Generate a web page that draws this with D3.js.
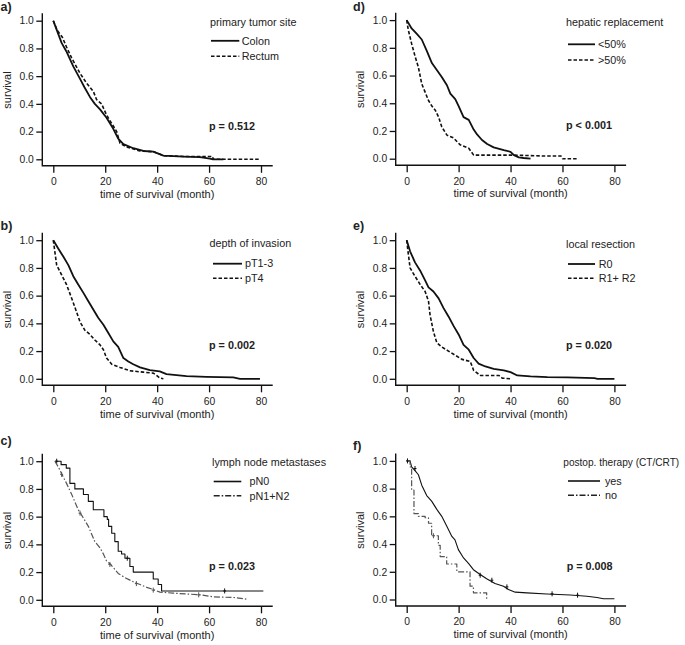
<!DOCTYPE html>
<html><head><meta charset="utf-8">
<script src="https://cdn.jsdelivr.net/npm/d3@7"></script>
<style>
body{margin:0;background:#fff}
svg{display:block}
text{font-family:"Liberation Sans",Arial,Helvetica,sans-serif;fill:#222}
</style>
</head><body>
<svg id="chart" width="685" height="645"></svg>
<script>
// ---------- data (time in months, survival proportion) ----------
const xTicks = [0, 20, 40, 60, 80];
const yTicks = [0, 0.2, 0.4, 0.6, 0.8, 1.0];

// a) primary tumor site
const colon = [[0,1],[1,0.95],[2,0.9],[3.2,0.84],[5,0.78],[7.7,0.67],[10.3,0.58],[12,0.52],[14.1,0.45],[16,0.40],[18,0.36],[20.5,0.30],[23.1,0.22],[25,0.15],[27,0.11],[30.8,0.08],[34.7,0.06],[38.5,0.055],[40,0.045],[42.4,0.026],[50,0.02],[56.5,0.015],[60.3,0.005],[61.5,0],[65.5,0]];
const rectum = [[0,1],[1.5,0.93],[3.5,0.88],[5.1,0.81],[7.1,0.73],[10.3,0.62],[12.8,0.55],[15.4,0.49],[16.7,0.43],[18.6,0.40],[20.5,0.32],[23.1,0.24],[24.4,0.20],[25.7,0.115],[28.2,0.09],[33.4,0.06],[38.5,0.055],[42.4,0.026],[51.3,0.02],[61.3,0.02],[61.6,0],[79.6,0]];

// b) depth of invasion
const pT13 = [[0,1],[1.9,0.94],[3.9,0.88],[5.8,0.82],[7.7,0.74],[9.6,0.68],[11.6,0.62],[13.5,0.56],[15.4,0.50],[17.3,0.44],[19.3,0.39],[21.2,0.33],[23.1,0.27],[25,0.23],[27,0.15],[28.9,0.125],[30.8,0.105],[33.4,0.082],[37.2,0.062],[41,0.053],[43.6,0.034],[51.3,0.019],[59,0.014],[69.3,0.01],[71.9,0],[79.6,0]];
const pT4 = [[0,1],[0.5,0.93],[1.3,0.82],[3.2,0.75],[5.1,0.68],[7.1,0.58],[9,0.48],[10.3,0.41],[12.2,0.35],[14.1,0.32],[16,0.28],[18,0.245],[19.3,0.21],[20.5,0.15],[22.5,0.105],[25.7,0.082],[29.5,0.058],[34.7,0.048],[38.5,0.041],[39.8,0.024],[41.1,0.005],[42.4,0]];

// c) lymph node metastases
const pN0 = [[0.6,1],[3,0.975],[5,0.95],[6.4,0.84],[8.3,0.80],[11.6,0.76],[13.5,0.71],[15.4,0.65],[19.5,0.60],[20.8,0.58],[21.3,0.53],[22.5,0.48],[23.7,0.42],[25,0.35],[26.3,0.33],[27.6,0.30],[29.5,0.24],[30.8,0.20],[38.5,0.15],[40.4,0.11],[41.7,0.064],[80.9,0.064]];
const pN12 = [[0.6,1],[1.9,0.96],[3.2,0.91],[5.1,0.84],[7.1,0.76],[9.6,0.65],[11.6,0.59],[13.5,0.53],[16,0.42],[18,0.375],[19.3,0.33],[20.5,0.28],[21.8,0.26],[23.7,0.22],[25,0.19],[27.6,0.16],[30.8,0.13],[33.4,0.11],[36,0.09],[38.5,0.074],[41.1,0.055],[46.2,0.048],[56.5,0.036],[61.6,0.021],[69.3,0.017],[74.5,0.005],[75.1,0.005]];
const pN0Censor = [[1.3,1],[28.5,0.30],[66,0.064]];
const pN12Censor = [[3.2,0.905],[10.3,0.625],[21.8,0.255],[32,0.117],[38.5,0.07],[56,0.036]];

// d) hepatic replacement
const hepLow = [[0,1],[1.9,0.94],[3.9,0.90],[5.8,0.86],[7.7,0.78],[9.7,0.69],[11.6,0.64],[13.5,0.59],[15.5,0.53],[16.8,0.47],[18.7,0.43],[20,0.38],[21.9,0.30],[23.9,0.28],[25.8,0.21],[27.1,0.175],[29,0.135],[31,0.106],[33.5,0.082],[37.4,0.062],[40,0.05],[41.3,0.026],[43.2,0.01],[45,0.005],[47.7,0]];
const hepHigh = [[0,1],[0.6,0.93],[1.9,0.83],[3.2,0.74],[4.5,0.66],[5.8,0.54],[7.1,0.48],[8.4,0.42],[9.7,0.38],[11,0.35],[12.3,0.30],[13.5,0.23],[15.5,0.17],[18,0.15],[20.6,0.10],[23.9,0.075],[25.8,0.026],[41.3,0.026],[51.6,0.02],[59.4,0.02],[60,0],[65.8,0]];

// e) local resection
const r0 = [[0,1],[1.3,0.92],[3.2,0.84],[5.2,0.78],[7.1,0.71],[8.4,0.66],[10.3,0.63],[12.3,0.58],[14.2,0.51],[16.1,0.45],[18.1,0.38],[20,0.32],[21.9,0.245],[23.9,0.21],[25.8,0.15],[27.7,0.11],[30.3,0.089],[33.5,0.072],[37.4,0.06],[40,0.048],[42.6,0.024],[47.7,0.017],[54.2,0.012],[61.9,0.01],[72.3,0.005],[73.5,0],[80,0]];
const r12 = [[0,1],[0.5,0.92],[1.3,0.80],[3.2,0.74],[5.2,0.68],[7.1,0.63],[8.4,0.56],[9,0.46],[10.3,0.34],[11.6,0.26],[13.5,0.23],[16.1,0.20],[18.7,0.17],[21.3,0.14],[24.5,0.125],[25.8,0.06],[28.4,0.024],[35.5,0.024],[36.8,0.005],[40,0]];

// f) postop. therapy
const therYes = [[0,1],[1.3,1],[1.9,0.957],[3.2,0.93],[4.5,0.90],[5.8,0.825],[7.7,0.75],[9.6,0.71],[11.6,0.65],[13.5,0.60],[15.4,0.53],[17.4,0.455],[18.6,0.43],[19.9,0.36],[21.9,0.30],[23.8,0.26],[25.7,0.215],[28.3,0.18],[30.8,0.15],[34,0.115],[37.3,0.096],[39.2,0.072],[41.8,0.053],[46.3,0.048],[54,0.04],[63,0.033],[69.4,0.024],[73.3,0.014],[75.8,0.005],[80,0.005]];
const therNo = [[0.5,1],[1.3,0.957],[1.9,0.79],[2.8,0.62],[4.5,0.60],[7.1,0.59],[8.4,0.55],[9.6,0.46],[12.2,0.39],[12.9,0.31],[15.4,0.256],[19.3,0.20],[24.4,0.096],[25.7,0.048],[30.8,0]];
const therYesCensor = [[0.3,1],[3.2,0.945],[28.3,0.175],[32.8,0.139],[38.6,0.091],[56,0.041],[65.8,0.031]];
const therNoCensor = [[10.3,0.46]];

// ---------- styles & layout ----------
const styles = {
  solid:   {stroke:"#111", width:1.8, dash:null},
  dash:    {stroke:"#111", width:1.6, dash:"3.5,2"},
  thin:    {stroke:"#111", width:1.1, dash:null},
  dashdot: {stroke:"#555", width:1.2, dash:"6,2,1.5,2"}
};
const L = {x0:53.3, x1:261, yTop:20.7, yBot:159.3, axX:42.3, axY:165.8, axTop:13.3, axRight:272.7};

const panels = [
  {lbl:"a)", ox:0, oy:0, lblY:11, title:"primary tumor site", tfs:10.8, p:"p = 0.512", titleX:210, ty:25.8, ly:[40.8,56.3], lx0:211, lx1:239.3, tx:241.8, px:209,
   series:[{name:"Colon", data:colon, st:"solid", step:false},{name:"Rectum", data:rectum, st:"dash", step:false}]},
  {lbl:"b)", ox:0, oy:219.5, lblY:10.5, title:"depth of invasion", tfs:10.8, p:"p = 0.002", titleX:209.5, ty:27.2, ly:[44.2,58.8], lx0:213, lx1:242, tx:245, px:209,
   series:[{name:"pT1-3", data:pT13, st:"solid", step:false},{name:"pT4", data:pT4, st:"dash", step:false}]},
  {lbl:"c)", ox:0, oy:440.5, lblY:4.5, title:"lymph node metastases", tfs:10.8, p:"p = 0.023", titleX:212, ty:25, ly:[41,55.3], lx0:213.7, lx1:241.3, tx:249.5, px:209,
   series:[{name:"pN0", data:pN0, st:"thin", step:true, censor:pN0Censor},{name:"pN1+N2", data:pN12, st:"dashdot", step:false, censor:pN12Censor}]},
  {lbl:"d)", ox:353.4, oy:-0.6, lblY:11.6, title:"hepatic replacement", tfs:10.8, p:"p < 0.001", titleX:212.6, ty:26.6, ly:[44.9,60.6], lx0:214.6, lx1:241.6, tx:244.6, px:212.6,
   series:[{name:"<50%", data:hepLow, st:"solid", step:false},{name:">50%", data:hepHigh, st:"dash", step:false}]},
  {lbl:"e)", ox:353.4, oy:219.5, lblY:10.5, title:"local resection", tfs:10.8, p:"p = 0.020", titleX:212.6, ty:28.6, ly:[44.5,58.8], lx0:214.6, lx1:241.6, tx:245.3, px:212.6,
   series:[{name:"R0", data:r0, st:"solid", step:false},{name:"R1+ R2", data:r12, st:"dash", step:false}]},
  {lbl:"f)", ox:353.4, oy:440.2, lblY:10, title:"postop. therapy (CT/CRT)", tfs:10.1, p:"p = 0.008", titleX:209.9, ty:25.5, ly:[40.8,55.1], lx0:214.6, lx1:246.6, tx:251.5, px:213.3,
   series:[{name:"yes", data:therYes, st:"thin", step:false, censor:therYesCensor},{name:"no", data:therNo, st:"dashdot", step:true, censor:therNoCensor}]}
];

const svg = d3.select("#chart");

panels.forEach(P => {
  const g = svg.append("g").attr("transform", `translate(${P.ox},${P.oy})`);
  const x = d3.scaleLinear().domain([0, 80]).range([L.x0, L.x1]);
  const y = d3.scaleLinear().domain([0, 1]).range([L.yBot, L.yTop]);

  // axes
  const ya = g.append("g").attr("transform", `translate(${L.axX},0)`)
    .call(d3.axisLeft(y).tickValues(yTicks).tickFormat(d3.format(".1f")).tickSize(6).tickPadding(2.5));
  const xa = g.append("g").attr("transform", `translate(0,${L.axY})`)
    .call(d3.axisBottom(x).tickValues(xTicks).tickFormat(d3.format("d")).tickSize(7).tickPadding(5));
  [ya, xa].forEach(a => {
    a.select(".domain").remove();
    a.selectAll(".tick line").attr("stroke", "#111").attr("stroke-width", 1.3);
    a.selectAll(".tick text").attr("font-size", 10.3).attr("fill", "#222")
      .style("font-family", '"Liberation Sans",Arial,sans-serif');
  });
  g.append("path").attr("fill", "none").attr("stroke", "#111").attr("stroke-width", 1.4)
    .attr("d", `M${L.axX},${L.axTop}V${L.axY}H${L.axRight}`);

  // axis titles
  g.append("text").attr("x", x(40)).attr("y", 198).attr("text-anchor", "middle")
    .attr("font-size", 11).text("time of survival (month)");
  g.append("text").attr("transform", `translate(10.5,${y(0.5)}) rotate(-90)`).attr("text-anchor", "middle")
    .attr("font-size", 11).text("survival");

  // panel label
  g.append("text").attr("x", P.ox > 0 ? -0.4 : 0.5).attr("y", P.lblY).attr("font-size", 12.5).attr("font-weight", "bold")
    .attr("fill", "#000").text(P.lbl);

  // curves
  P.series.forEach(s => {
    const st = styles[s.st];
    const line = d3.line().x(d => x(d[0])).y(d => y(d[1]))
      .curve(s.step ? d3.curveStepAfter : d3.curveLinear);
    g.append("path").datum(s.data).attr("fill", "none")
      .attr("stroke", st.stroke).attr("stroke-width", st.width)
      .attr("stroke-dasharray", st.dash).attr("stroke-linejoin", "round")
      .attr("d", line);
    if (s.censor) {
      g.selectAll(null).data(s.censor).enter().append("path")
        .attr("fill", "none").attr("stroke", st.stroke).attr("stroke-width", 1)
        .attr("d", d => `M${x(d[0])},${y(d[1]) - 2.5}v5M${x(d[0]) - 1.5},${y(d[1])}h3`);
    }
  });

  // legend
  g.append("text").attr("x", P.titleX).attr("y", P.ty).attr("font-size", P.tfs).text(P.title);
  P.series.forEach((s, i) => {
    const st = styles[s.st];
    g.append("line").attr("x1", P.lx0).attr("x2", P.lx1).attr("y1", P.ly[i]).attr("y2", P.ly[i])
      .attr("stroke", s.st === "dashdot" ? "#222" : st.stroke).attr("stroke-width", Math.max(st.width, 1.6))
      .attr("stroke-dasharray", st.dash);
    g.append("text").attr("x", P.tx).attr("y", P.ly[i] + 3.7).attr("font-size", 10.8).text(s.name);
  });

  // p-value
  g.append("text").attr("x", P.px).attr("y", 129.5).attr("font-size", 10.8).attr("font-weight", "bold")
    .attr("fill", "#000").text(P.p);
});
</script>
</body></html>
